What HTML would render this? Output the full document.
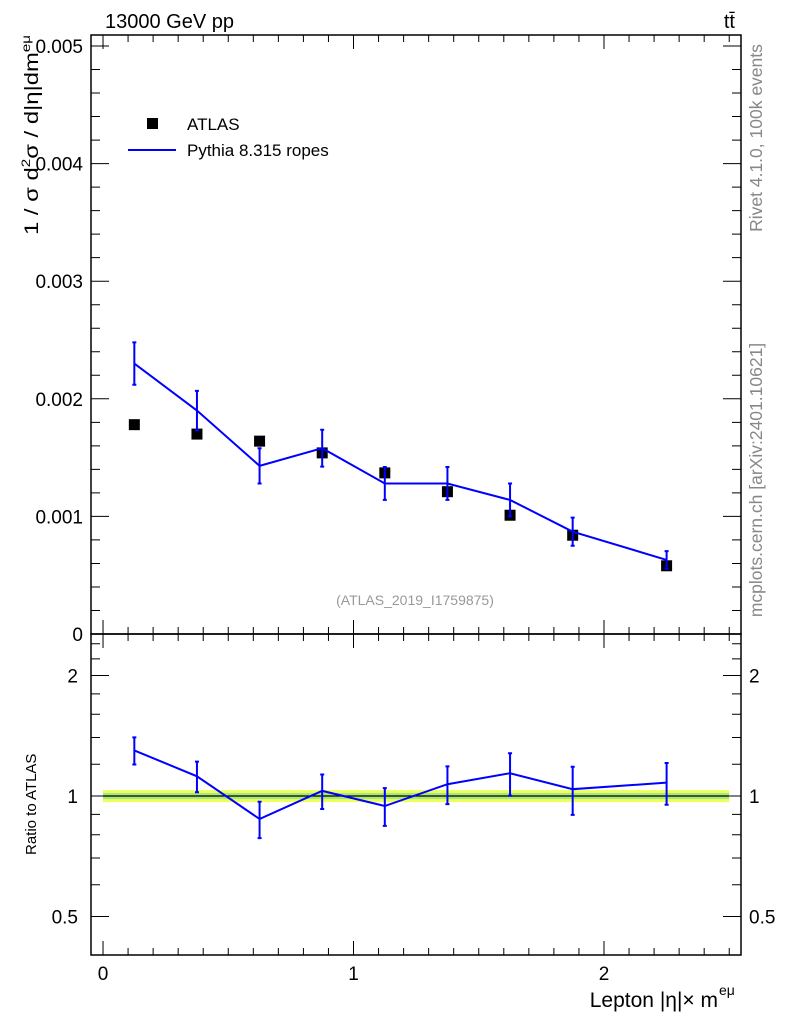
<!DOCTYPE html>
<html><head><meta charset="utf-8"><style>
body{margin:0;background:#fff;}
svg{display:block;font-family:"Liberation Sans",sans-serif;}
</style></head><body>
<svg id="c" width="786" height="1024" viewBox="0 0 786 1024">
<rect x="0" y="0" width="786" height="1024" fill="#fff"/>
<g id="main"></g>
<g id="ratio"></g>
<text x="105" y="28" font-size="20">13000 GeV pp</text>
<text x="735" y="28" font-size="20" text-anchor="end">tt̄</text>
<text x="415" y="605" font-size="14" fill="#999" text-anchor="middle">(ATLAS_2019_I1759875)</text>
<text transform="translate(762,138) rotate(-90)" font-size="17.5" fill="#888" text-anchor="middle">Rivet 4.1.0,  100k events</text>
<text transform="translate(762,480) rotate(-90)" font-size="17.5" fill="#888" text-anchor="middle">mcplots.cern.ch [arXiv:2401.10621]</text>
<text transform="translate(38,235) rotate(-90)" font-size="19" textLength="200" lengthAdjust="spacingAndGlyphs">1 / σ  d<tspan dy="-8" font-size="12">2</tspan><tspan dy="8">σ / d|η|dm</tspan><tspan dy="-8" font-size="12">eμ</tspan></text>
<text transform="translate(36,855) rotate(-90)" font-size="15">Ratio to ATLAS</text>
<text x="718" y="1007" font-size="21" text-anchor="end">Lepton |η|× m</text>
<text x="719" y="995" font-size="14">eμ</text>
<g>
<rect x="147" y="118" width="11" height="11" fill="#000"/>
<text x="187" y="130" font-size="17">ATLAS</text>
<line x1="128" y1="150" x2="176" y2="150" stroke="#00f" stroke-width="2"/>
<text x="187" y="156" font-size="17">Pythia 8.315 ropes</text>
</g>
</svg>
<script>
const xCenters=[0.125,0.375,0.625,0.875,1.125,1.375,1.625,1.875,2.25];
const atlasVals=[0.00178,0.00170,0.00164,0.00154,0.00137,0.00121,0.00101,0.00084,0.00058];
const mcVals=[0.00230,0.00190,0.00143,0.00158,0.00128,0.00128,0.00114,0.00087,0.00063];
const mcErrs=[0.00018,0.000167,0.00015,0.000157,0.00014,0.00014,0.00014,0.00012,0.000075];
const ratioVals=[1.30,1.12,0.876,1.03,0.944,1.07,1.14,1.04,1.08];
const mainTicks=[0,0.001,0.002,0.003,0.004,0.005];
const mainTickLabels=["0","0.001","0.002","0.003","0.004","0.005"];
const ratioTicks=[0.5,1,2];
const ratioTickLabels=["0.5","1","2"];
const xTicks=[0,1,2];
const xTickLabels=["0","1","2"];

const NS="http://www.w3.org/2000/svg";
const L=91,R=741,MT=35,MB=634,RT=634,RB=955;
const xMin=-0.048,xMax=2.547;
const X=v=>L+(v-xMin)/(xMax-xMin)*(R-L);
const Y=v=>634-v/0.001*117.6;
const YR=v=>796-Math.log2(v)*120.5;
function mk(p,tag,a){const e=document.createElementNS(NS,tag);for(const k in a)e.setAttribute(k,a[k]);p.appendChild(e);return e;}
const main=document.getElementById('main'),ratio=document.getElementById('ratio');

let f=mk(main,'rect',{x:L,y:MT,width:R-L,height:MB-MT,fill:'none',stroke:'#000','stroke-width':1.5});


f=mk(ratio,'rect',{x:L,y:RT,width:R-L,height:RB-RT,fill:'none',stroke:'#000','stroke-width':1.5});



for(const g of [[main,MT,MB],[ratio,RT,RB]]){
  for(let v=0;v<=2.5001;v+=0.1){
    const major=Math.abs(v-Math.round(v))<1e-6;
    const len=major?14:7;
    let t=mk(g[0],'path',{d:`M${X(v)},${g[2]}v${-len}M${X(v)},${g[1]}v${len}`,stroke:'#000','stroke-width':1});
    
    
  }
}
xTicks.forEach((v,i)=>{
  const t=mk(ratio,'text',{x:X(v),y:980,'font-size':19,'text-anchor':'middle'});
  t.textContent=xTickLabels[i];
  
  
});
for(let v=0;v<=0.00509;v+=0.0002){
  const major=Math.abs(v/0.001-Math.round(v/0.001))<1e-6;
  const len=major?18:9;
  let t=mk(main,'path',{d:`M${L},${Y(v)}h${len}M${R},${Y(v)}h${-len}`,stroke:'#000','stroke-width':1});
  
  
}
mainTicks.forEach((v,i)=>{
  const t=mk(main,'text',{x:83,y:Y(v)+7,'font-size':19,'text-anchor':'end'});
  t.textContent=mainTickLabels[i];
  
  
});
const rMinor=[0.5,0.6,0.7,0.8,0.9,1,1.2,1.4,1.6,1.8,2,2.2,2.4];
rMinor.forEach(v=>{
  const len=ratioTicks.includes(v)?18:9;
  let t=mk(ratio,'path',{d:`M${L},${YR(v)}h${len}M${R},${YR(v)}h${-len}`,stroke:'#000','stroke-width':1});
  
  
});
ratioTicks.forEach((v,i)=>{
  let t=mk(ratio,'text',{x:78,y:YR(v)+7,'font-size':19,'text-anchor':'end'});
  t.textContent=ratioTickLabels[i];
  
  
  t=mk(ratio,'text',{x:749,y:YR(v)+7,'font-size':19});
  t.textContent=ratioTickLabels[i];
  
  
});
let b=mk(ratio,'rect',{x:X(0),y:YR(1.035),width:X(2.5)-X(0),height:YR(0.965)-YR(1.035),fill:'#f0ff60'});


b=mk(ratio,'rect',{x:X(0),y:YR(1.018),width:X(2.5)-X(0),height:YR(0.982)-YR(1.018),fill:'#a8e87a'});


b=mk(ratio,'line',{x1:X(0),x2:X(2.5),y1:YR(1),y2:YR(1),stroke:'#000','stroke-width':1.2});



xCenters.forEach((x,i)=>{
  const r=mk(main,'rect',{x:X(x)-5.5,y:Y(atlasVals[i])-5.5,width:11,height:11,fill:'#000'});
  
  
});
let p=mk(main,'polyline',{points:xCenters.map((x,i)=>X(x)+','+Y(mcVals[i])).join(' '),fill:'none',stroke:'#00f','stroke-width':2});


xCenters.forEach((x,i)=>{
  const a=Y(mcVals[i]+mcErrs[i]),c=Y(mcVals[i]-mcErrs[i]);
  const e=mk(main,'path',{d:`M${X(x)},${a}V${c}M${X(x)-2},${a}h4M${X(x)-2},${c}h4`,stroke:'#00f','stroke-width':2,fill:'none'});
  
  
});
p=mk(ratio,'polyline',{points:xCenters.map((x,i)=>X(x)+','+YR(ratioVals[i])).join(' '),fill:'none',stroke:'#00f','stroke-width':2});


xCenters.forEach((x,i)=>{
  const rel=mcErrs[i]/atlasVals[i];
  const a=YR(ratioVals[i]+rel),c=YR(ratioVals[i]-rel);
  const e=mk(ratio,'path',{d:`M${X(x)},${a}V${c}M${X(x)-2},${a}h4M${X(x)-2},${c}h4`,stroke:'#00f','stroke-width':2,fill:'none'});
  
  
});
</script>
</body></html>
